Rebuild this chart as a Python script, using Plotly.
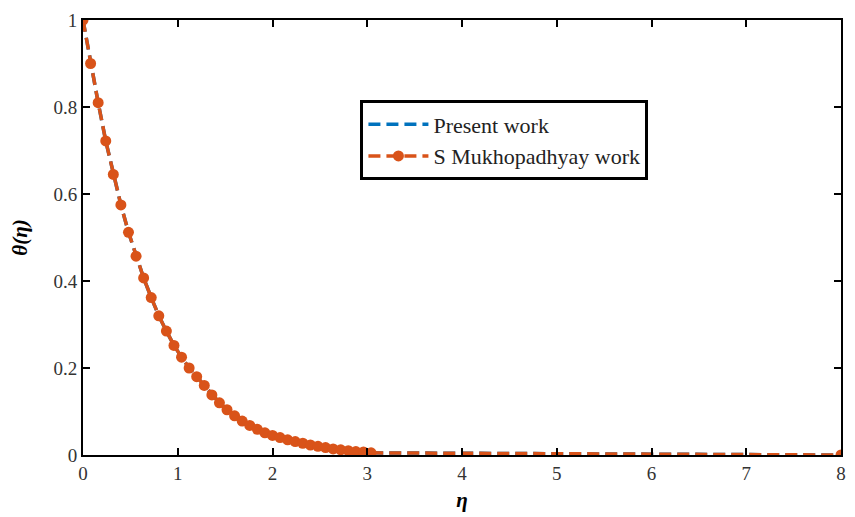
import plotly.graph_objects as go

eta = [0.00, 0.08, 0.16, 0.24, 0.32, 0.40, 0.48, 0.56, 0.64, 0.72,
       0.80, 0.88, 0.96, 1.04, 1.12, 1.20, 1.28, 1.36, 1.44, 1.52,
       1.60, 1.68, 1.76, 1.84, 1.92, 2.00, 2.08, 2.16, 2.24, 2.32,
       2.40, 2.48, 2.56, 2.64, 2.72, 2.80, 2.88, 2.96, 3.04, 8.00]
theta_present = [1.000, 0.900, 0.810, 0.722, 0.645, 0.575, 0.512, 0.457, 0.407, 0.362,
                 0.320, 0.285, 0.252, 0.225, 0.200, 0.180, 0.160, 0.138, 0.120, 0.104,
                 0.090, 0.078, 0.068, 0.059, 0.051, 0.045, 0.040, 0.035, 0.031, 0.027,
                 0.023, 0.020, 0.017, 0.014, 0.012, 0.010, 0.008, 0.007, 0.005, 0.000]
theta_mukho = [1.000, 0.900, 0.810, 0.722, 0.645, 0.575, 0.512, 0.457, 0.407, 0.362,
               0.320, 0.285, 0.252, 0.225, 0.200, 0.180, 0.160, 0.138, 0.120, 0.104,
               0.090, 0.078, 0.068, 0.059, 0.051, 0.045, 0.040, 0.035, 0.031, 0.027,
               0.023, 0.020, 0.017, 0.014, 0.012, 0.010, 0.008, 0.007, 0.005, 0.000]

x_ticks = [0, 1, 2, 3, 4, 5, 6, 7, 8]
y_ticks = [0, 0.2, 0.4, 0.6, 0.8, 1]
y_tick_labels = ["0", "0.2", "0.4", "0.6", "0.8", "1"]

BLUE = "#0072BD"
ORANGE = "#D95319"
FONT = "Liberation Serif"

fig = go.Figure()
fig.add_trace(go.Scatter(
    x=eta, y=theta_present, mode="lines", name="Present work",
    line=dict(color=BLUE, width=3.5, dash="12px,6px"),
))
fig.add_trace(go.Scatter(
    x=eta, y=theta_mukho, mode="lines+markers", name="S Mukhopadhyay work",
    line=dict(color=ORANGE, width=3.5, dash="12px,6px"),
    marker=dict(color=ORANGE, size=11),
))

axis_common = dict(
    showline=True, linecolor="black", linewidth=2, mirror="ticks",
    ticks="inside", ticklen=7, tickwidth=2, tickcolor="black",
    showgrid=False, zeroline=False,
    tickfont=dict(family=FONT, size=19, color="#333333"),
)

fig.update_layout(
    width=855, height=517,
    margin=dict(l=83, r=9, t=20, b=60),
    plot_bgcolor="white", paper_bgcolor="white",
    xaxis=dict(range=[0, 8], tickvals=x_ticks,
               title=dict(text="<b><i>η</i></b>", font=dict(family=FONT, size=21, color="black"), standoff=10),
               **axis_common),
    yaxis=dict(range=[0, 1], tickvals=y_ticks, ticktext=y_tick_labels,
               title=dict(text="<b><i>θ(η)</i></b>", font=dict(family=FONT, size=21, color="black"), standoff=20),
               **axis_common),
    legend=dict(
        x=0.366, y=0.815, xanchor="left", yanchor="top",
        bgcolor="white", bordercolor="black", borderwidth=3,
        font=dict(family=FONT, size=22, color="#222222"),
        tracegroupgap=0, itemwidth=60,
    ),
    showlegend=True,
)

fig.write_html("out.html")
